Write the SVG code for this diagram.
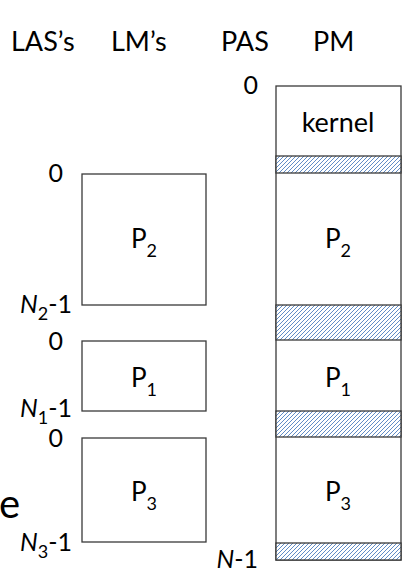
<svg xmlns="http://www.w3.org/2000/svg" width="414" height="580" viewBox="0 0 414 580">
<style>
text{font-family:Lato,"Open Sans","Liberation Sans",sans-serif;fill:#000}
.h{font-size:27px}
.p{font-size:26px;text-anchor:middle}
.s{font-size:18px}
.lbl{font-size:25px;text-anchor:end}
.box{fill:#fff;stroke:#3a3a3a;stroke-width:1.3}
.hat{fill:url(#hatch);stroke:#3a3a3a;stroke-width:1.3}
</style>
<defs>
<pattern id="hatch" patternUnits="userSpaceOnUse" width="4" height="4">
<rect width="4" height="4" fill="#fff"/>
<path d="M-1,1 L1,-1 M0,4 L4,0 M3,5 L5,3" stroke="#4f7fbf" stroke-width="0.9"/>
</pattern>
</defs>
<rect width="414" height="580" fill="#fff"/>
<g id="headers">
<text class="h" x="11" y="51">LAS’s</text>
<text class="h" x="111" y="51">LM’s</text>
<text class="h" x="221" y="51">PAS</text>
<text class="h" x="313" y="51">PM</text>
</g>
<g id="pm">
<rect class="box" x="276" y="86" width="125" height="474"/>
<rect class="hat" x="276" y="156" width="125" height="17"/>
<rect class="hat" x="276" y="305" width="125" height="35"/>
<rect class="hat" x="276" y="411" width="125" height="26"/>
<rect class="hat" x="276" y="543" width="125" height="17"/>
<text class="h" x="338" y="132" text-anchor="middle">kernel</text>
<text class="p" x="338" y="248">P<tspan class="s" dy="9">2</tspan></text>
<text class="p" x="338" y="387">P<tspan class="s" dy="9">1</tspan></text>
<text class="p" x="338" y="501">P<tspan class="s" dy="9">3</tspan></text>
</g>
<g id="pas-labels">
<text class="lbl" x="258" y="94">0</text>
<text class="lbl" x="258" y="568"><tspan font-style="italic">N</tspan>-1</text>
</g>
<g id="lm-p2">
<rect class="box" x="82" y="174" width="124" height="131"/>
<text class="p" x="144" y="248">P<tspan class="s" dy="9">2</tspan></text>
<text class="lbl" x="63" y="182">0</text>
<text class="lbl" x="72" y="313"><tspan font-style="italic">N</tspan><tspan class="s" dy="7">2</tspan><tspan dy="-7">-1</tspan></text>
</g>
<g id="lm-p1">
<rect class="box" x="82" y="341" width="124" height="70"/>
<text class="p" x="144" y="387">P<tspan class="s" dy="9">1</tspan></text>
<text class="lbl" x="63" y="350">0</text>
<text class="lbl" x="72" y="417"><tspan font-style="italic">N</tspan><tspan class="s" dy="7">1</tspan><tspan dy="-7">-1</tspan></text>
</g>
<g id="lm-p3">
<rect class="box" x="82" y="438" width="124" height="104"/>
<text class="p" x="144" y="501">P<tspan class="s" dy="9">3</tspan></text>
<text class="lbl" x="63" y="447">0</text>
<text class="lbl" x="72" y="551"><tspan font-style="italic">N</tspan><tspan class="s" dy="7">3</tspan><tspan dy="-7">-1</tspan></text>
</g>
<text x="-1" y="518" font-size="40">e</text>
</svg>
